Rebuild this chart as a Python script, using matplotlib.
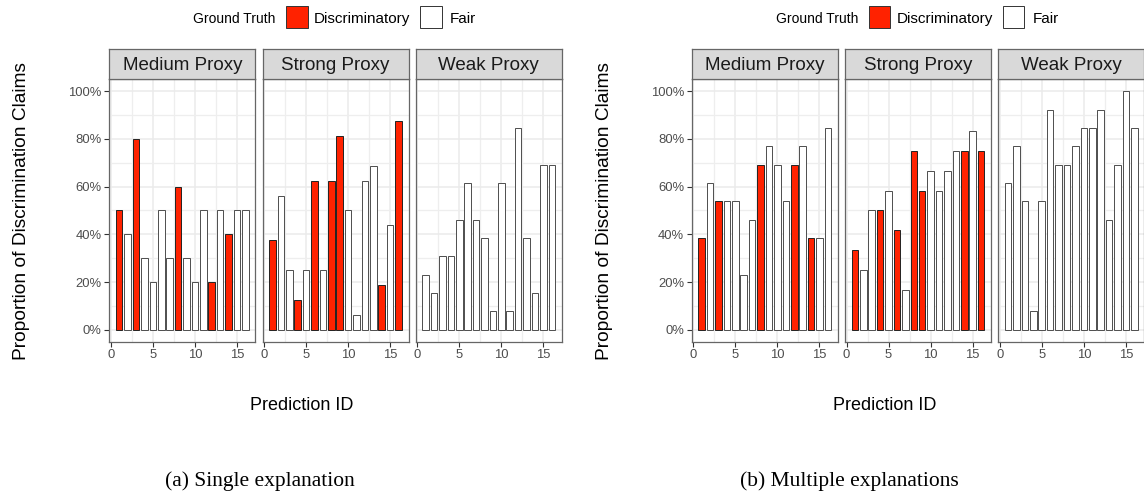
import matplotlib
matplotlib.use("Agg")
import matplotlib.pyplot as plt
from matplotlib.patches import Rectangle
from matplotlib.ticker import FuncFormatter

# ---------------- data ----------------
pred_ids = list(range(1, 17))
proxies = ["Medium Proxy", "Strong Proxy", "Weak Proxy"]

truth_medium = ["D", "F", "D", "F", "F", "F", "F", "D", "F", "F", "F", "D", "F", "D", "F", "F"]
truth_strong = ["D", "F", "F", "D", "F", "D", "F", "D", "D", "F", "F", "F", "F", "D", "F", "D"]
truth_weak = ["F"] * 16

single_medium = [0.5, 0.4, 0.8, 0.3, 0.2, 0.5, 0.3, 0.6, 0.3, 0.2, 0.5, 0.2, 0.5, 0.4, 0.5, 0.5]
single_strong = [0.375, 0.5625, 0.25, 0.125, 0.25, 0.625, 0.25, 0.625, 0.8125, 0.5, 0.0625,
                 0.625, 0.6875, 0.1875, 0.4375, 0.875]
single_weak = [0.231, 0.154, 0.308, 0.308, 0.462, 0.615, 0.462, 0.385, 0.077, 0.615, 0.077,
               0.846, 0.385, 0.154, 0.692, 0.692]

multi_medium = [0.385, 0.615, 0.538, 0.538, 0.538, 0.231, 0.462, 0.692, 0.769, 0.692, 0.538,
                0.692, 0.769, 0.385, 0.385, 0.846]
multi_strong = [0.333, 0.25, 0.5, 0.5, 0.583, 0.417, 0.167, 0.75, 0.583, 0.667, 0.583, 0.667,
                0.75, 0.75, 0.833, 0.75]
multi_weak = [0.615, 0.769, 0.538, 0.077, 0.538, 0.923, 0.692, 0.692, 0.769, 0.846, 0.846,
              0.923, 0.462, 0.692, 1.0, 0.846]

legend_title = "Ground Truth"
legend_labels = ["Discriminatory", "Fair"]
y_title = "Proportion of Discrimination Claims"
x_title = "Prediction ID"
captions = ["(a) Single explanation", "(b) Multiple explanations"]

# ---------------- style ----------------
W, H = 1144, 498
DPI = 100
RED = "#FF2200"
FONT = "Liberation Sans"
plt.rcParams["font.family"] = [FONT, "DejaVu Sans"]

fig = plt.figure(figsize=(W / DPI, H / DPI), dpi=DPI)


def fx(px):
    return px / W


def fy(py):
    return 1 - py / H


def add_box(x0, y0, x1, y1):
    return fig.add_axes([fx(x0), fy(y1), fx(x1) - fx(x0), fy(y0) - fy(y1)])


BAR_W = 0.78
xlo = 1 - BAR_W / 2
xhi = 16 + BAR_W / 2
xexp = 0.05 * (xhi - xlo)

panel_lefts = [109.3, 262.5, 415.7]
panel_w = 146.0
strip_top, panel_top, panel_bot = 49.3, 79.3, 341.7

figures = [
    ([single_medium, single_strong, single_weak], 0.0),
    ([multi_medium, multi_strong, multi_weak], 582.5),
]
truths = [truth_medium, truth_strong, truth_weak]

for vals_list, off in figures:
    for i, (name, vals, truth) in enumerate(zip(proxies, vals_list, truths)):
        x0 = panel_lefts[i] + off
        x1 = x0 + panel_w
        ax = add_box(x0, panel_top, x1, panel_bot)
        colors = [RED if t == "D" else "white" for t in truth]
        edges = ["#222222" if t == "D" else "#4D4D4D" for t in truth]
        ax.bar(pred_ids, vals, width=BAR_W, color=colors, edgecolor=edges,
               linewidth=0.7, zorder=3)
        ax.set_xlim(xlo - xexp, xhi + xexp)
        ax.set_ylim(-0.05, 1.05)
        ax.set_xticks([0, 5, 10, 15])
        ax.set_xticks([2.5, 7.5, 12.5], minor=True)
        ax.set_yticks([0, 0.2, 0.4, 0.6, 0.8, 1.0])
        ax.set_yticks([0.1, 0.3, 0.5, 0.7, 0.9], minor=True)
        ax.grid(True, which="major", color="#EBEBEB", linewidth=1.1, zorder=0)
        ax.grid(True, which="minor", color="#EEEEEE", linewidth=0.9, zorder=0)
        ax.set_axisbelow(True)
        for sp in ax.spines.values():
            sp.set_color("#666666")
            sp.set_linewidth(0.9)
        ax.tick_params(which="major", length=3.5, width=0.8, color="#333333",
                       labelsize=9.4, labelcolor="#4D4D4D", pad=2)
        ax.tick_params(which="minor", length=0)
        ax.yaxis.set_major_formatter(FuncFormatter(lambda v, p: f"{int(round(v * 100))}%"))
        if i > 0:
            ax.tick_params(axis="y", which="major", length=0, labelleft=False)
        # strip
        sax = add_box(x0, strip_top, x1, panel_top)
        sax.set_xticks([])
        sax.set_yticks([])
        sax.set_facecolor("#D9D9D9")
        for sp in sax.spines.values():
            sp.set_color("#666666")
            sp.set_linewidth(0.9)
        sax.text(0.5, 0.45, name, ha="center", va="center", fontsize=13.5,
                 color="#1A1A1A", transform=sax.transAxes)

    # axis titles
    fig.text(fx(22 + off), fy(211), y_title, rotation=90, ha="center", va="center",
             fontsize=13.8, color="black")
    fig.text(fx(302 + off), fy(405), x_title, ha="center", va="center",
             fontsize=13, color="black")

    # legend
    fig.text(fx(193 + off), fy(17.5), legend_title, ha="left", va="center_baseline",
             fontsize=10, color="black")
    for (bx, tx, lab, col) in [(286, 314, legend_labels[0], RED),
                               (420, 450, legend_labels[1], "white")]:
        fig.patches.append(Rectangle((fx(bx + off), fy(28)), fx(21.5), fy(6.5) - fy(28),
                                     transform=fig.transFigure, facecolor=col,
                                     edgecolor="#333333", linewidth=0.7))
        fig.text(fx(tx + off), fy(17.5), lab, ha="left", va="center_baseline",
                 fontsize=11, color="black")

# captions
fig.text(fx(260), fy(481.5), captions[0], ha="center", va="center", fontsize=15.5,
         family=["Liberation Serif", "DejaVu Serif"])
fig.text(fx(849.7), fy(481.5), captions[1], ha="center", va="center", fontsize=15.5,
         family=["Liberation Serif", "DejaVu Serif"])

fig.savefig("out.png", dpi=DPI, facecolor="white")
